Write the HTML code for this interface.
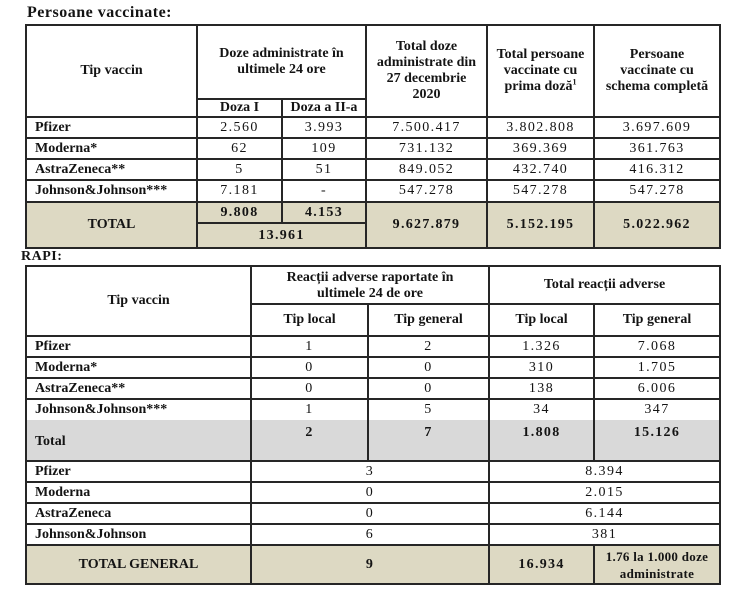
<!DOCTYPE html>
<html>
<head>
<meta charset="utf-8">
<style>
html,body{margin:0;padding:0;background:#fff;}
body{width:732px;height:600px;position:relative;overflow:hidden;font-family:"Liberation Serif","DejaVu Serif",serif;color:#141414;}
.c{position:absolute;display:flex;align-items:center;justify-content:center;text-align:center;box-sizing:border-box;white-space:nowrap;}
.b{font-weight:bold;font-size:14px;letter-spacing:0px;line-height:16px;}
.n{font-size:14px;letter-spacing:1.4px;}
.nb{font-size:14px;letter-spacing:1.3px;font-weight:bold;}
.l{justify-content:flex-start;padding-left:9px;}
.h{position:absolute;height:2px;background:#262626;}
.v{position:absolute;width:2px;background:#262626;}
.bg{position:absolute;}
.t{position:absolute;font-weight:bold;white-space:nowrap;}
</style>
</head>
<body>

<div class="t" style="left:27px;top:5px;font-size:16px;line-height:16px;letter-spacing:0.5px;">Persoane vaccinate:</div>

<!-- TABLE 1 backgrounds -->
<div class="bg" style="left:26px;top:202px;width:694px;height:46px;background:#ddd9c3;"></div>

<!-- TABLE 1 cells -->
<div class="c b" style="left:26px;top:25px;width:171px;height:92px;">Tip vaccin</div>
<div class="c b" style="left:197px;top:25px;width:169px;height:74px;">Doze administrate în<br>ultimele 24 ore</div>
<div class="c b" style="left:366px;top:25px;width:121px;height:92px;">Total doze<br>administrate din<br>27 decembrie<br>2020</div>
<div class="c b" style="left:487px;top:25px;width:107px;height:92px;"><span>Total persoane<br>vaccinate cu<br>prima doză<sup style="font-size:8px;line-height:0;">1</sup></span></div>
<div class="c b" style="left:594px;top:25px;width:126px;height:92px;">Persoane<br>vaccinate cu<br>schema completă</div>
<div class="c b" style="left:197px;top:99px;width:85px;height:18px;">Doza I</div>
<div class="c b" style="left:282px;top:99px;width:84px;height:18px;">Doza a II-a</div>

<!-- row Pfizer -->
<div class="c b l" style="left:26px;top:117px;width:171px;height:21px;">Pfizer</div>
<div class="c n" style="left:197px;top:117px;width:85px;height:21px;">2.560</div>
<div class="c n" style="left:282px;top:117px;width:84px;height:21px;">3.993</div>
<div class="c n" style="left:366px;top:117px;width:121px;height:21px;">7.500.417</div>
<div class="c n" style="left:487px;top:117px;width:107px;height:21px;">3.802.808</div>
<div class="c n" style="left:594px;top:117px;width:126px;height:21px;">3.697.609</div>
<!-- row Moderna -->
<div class="c b l" style="left:26px;top:138px;width:171px;height:21px;">Moderna*</div>
<div class="c n" style="left:197px;top:138px;width:85px;height:21px;">62</div>
<div class="c n" style="left:282px;top:138px;width:84px;height:21px;">109</div>
<div class="c n" style="left:366px;top:138px;width:121px;height:21px;">731.132</div>
<div class="c n" style="left:487px;top:138px;width:107px;height:21px;">369.369</div>
<div class="c n" style="left:594px;top:138px;width:126px;height:21px;">361.763</div>
<!-- row AstraZeneca -->
<div class="c b l" style="left:26px;top:159px;width:171px;height:21px;">AstraZeneca**</div>
<div class="c n" style="left:197px;top:159px;width:85px;height:21px;">5</div>
<div class="c n" style="left:282px;top:159px;width:84px;height:21px;">51</div>
<div class="c n" style="left:366px;top:159px;width:121px;height:21px;">849.052</div>
<div class="c n" style="left:487px;top:159px;width:107px;height:21px;">432.740</div>
<div class="c n" style="left:594px;top:159px;width:126px;height:21px;">416.312</div>
<!-- row J&J -->
<div class="c b l" style="left:26px;top:180px;width:171px;height:22px;">Johnson&amp;Johnson***</div>
<div class="c n" style="left:197px;top:180px;width:85px;height:22px;">7.181</div>
<div class="c n" style="left:282px;top:180px;width:84px;height:22px;">-</div>
<div class="c n" style="left:366px;top:180px;width:121px;height:22px;">547.278</div>
<div class="c n" style="left:487px;top:180px;width:107px;height:22px;">547.278</div>
<div class="c n" style="left:594px;top:180px;width:126px;height:22px;">547.278</div>
<!-- TOTAL -->
<div class="c b" style="left:26px;top:202px;width:171px;height:46px;">TOTAL</div>
<div class="c nb" style="left:197px;top:202px;width:85px;height:21px;">9.808</div>
<div class="c nb" style="left:282px;top:202px;width:84px;height:21px;">4.153</div>
<div class="c nb" style="left:197px;top:223px;width:169px;height:25px;">13.961</div>
<div class="c nb" style="left:366px;top:202px;width:121px;height:46px;">9.627.879</div>
<div class="c nb" style="left:487px;top:202px;width:107px;height:46px;">5.152.195</div>
<div class="c nb" style="left:594px;top:202px;width:126px;height:46px;">5.022.962</div>

<!-- TABLE 1 lines -->
<div class="h" style="left:25px;top:24px;width:696px;"></div>
<div class="h" style="left:197px;top:98px;width:169px;"></div>
<div class="h" style="left:25px;top:116px;width:696px;"></div>
<div class="h" style="left:25px;top:137px;width:696px;"></div>
<div class="h" style="left:25px;top:158px;width:696px;"></div>
<div class="h" style="left:25px;top:179px;width:696px;"></div>
<div class="h" style="left:25px;top:201px;width:696px;"></div>
<div class="h" style="left:197px;top:222px;width:169px;"></div>
<div class="h" style="left:25px;top:247px;width:696px;"></div>
<div class="v" style="left:25px;top:24px;height:225px;"></div>
<div class="v" style="left:196px;top:24px;height:225px;"></div>
<div class="v" style="left:365px;top:24px;height:225px;"></div>
<div class="v" style="left:486px;top:24px;height:225px;"></div>
<div class="v" style="left:593px;top:24px;height:225px;"></div>
<div class="v" style="left:719px;top:24px;height:225px;"></div>
<div class="v" style="left:281px;top:98px;height:125px;"></div>

<div class="t" style="left:21px;top:250px;font-size:14px;line-height:14px;letter-spacing:0.5px;">RAPI:</div>

<!-- TABLE 2 backgrounds -->
<div class="bg" style="left:26px;top:420px;width:694px;height:41px;background:#d9d9d9;"></div>
<div class="bg" style="left:26px;top:545px;width:694px;height:39px;background:#ddd9c3;"></div>

<!-- TABLE 2 header -->
<div class="c b" style="left:26px;top:266px;width:225px;height:70px;">Tip vaccin</div>
<div class="c b" style="left:251px;top:268px;width:238px;height:36px;">Reacții adverse raportate în<br>ultimele 24 de ore</div>
<div class="c b" style="left:489px;top:266px;width:231px;height:38px;">Total reacții adverse</div>
<div class="c b" style="left:251px;top:304px;width:117px;height:32px;">Tip local</div>
<div class="c b" style="left:368px;top:304px;width:121px;height:32px;">Tip general</div>
<div class="c b" style="left:489px;top:304px;width:105px;height:32px;">Tip local</div>
<div class="c b" style="left:594px;top:304px;width:126px;height:32px;">Tip general</div>

<!-- rows -->
<div class="c b l" style="left:26px;top:336px;width:225px;height:21px;">Pfizer</div>
<div class="c n" style="left:251px;top:336px;width:117px;height:21px;">1</div>
<div class="c n" style="left:368px;top:336px;width:121px;height:21px;">2</div>
<div class="c n" style="left:489px;top:336px;width:105px;height:21px;">1.326</div>
<div class="c n" style="left:594px;top:336px;width:126px;height:21px;">7.068</div>

<div class="c b l" style="left:26px;top:357px;width:225px;height:21px;">Moderna*</div>
<div class="c n" style="left:251px;top:357px;width:117px;height:21px;">0</div>
<div class="c n" style="left:368px;top:357px;width:121px;height:21px;">0</div>
<div class="c n" style="left:489px;top:357px;width:105px;height:21px;">310</div>
<div class="c n" style="left:594px;top:357px;width:126px;height:21px;">1.705</div>

<div class="c b l" style="left:26px;top:378px;width:225px;height:21px;">AstraZeneca**</div>
<div class="c n" style="left:251px;top:378px;width:117px;height:21px;">0</div>
<div class="c n" style="left:368px;top:378px;width:121px;height:21px;">0</div>
<div class="c n" style="left:489px;top:378px;width:105px;height:21px;">138</div>
<div class="c n" style="left:594px;top:378px;width:126px;height:21px;">6.006</div>

<div class="c b l" style="left:26px;top:399px;width:225px;height:21px;">Johnson&amp;Johnson***</div>
<div class="c n" style="left:251px;top:399px;width:117px;height:21px;">1</div>
<div class="c n" style="left:368px;top:399px;width:121px;height:21px;">5</div>
<div class="c n" style="left:489px;top:399px;width:105px;height:21px;">34</div>
<div class="c n" style="left:594px;top:399px;width:126px;height:21px;">347</div>

<!-- Total -->
<div class="c b l" style="left:26px;top:423px;width:225px;height:38px;font-size:14px;">Total</div>
<div class="c nb" style="left:251px;top:422px;width:117px;height:22px;">2</div>
<div class="c nb" style="left:368px;top:422px;width:121px;height:22px;">7</div>
<div class="c nb" style="left:489px;top:422px;width:105px;height:22px;">1.808</div>
<div class="c nb" style="left:594px;top:422px;width:126px;height:22px;">15.126</div>

<!-- lower rows -->
<div class="c b l" style="left:26px;top:461px;width:225px;height:21px;">Pfizer</div>
<div class="c n" style="left:251px;top:461px;width:238px;height:21px;">3</div>
<div class="c n" style="left:489px;top:461px;width:231px;height:21px;">8.394</div>

<div class="c b l" style="left:26px;top:482px;width:225px;height:21px;">Moderna</div>
<div class="c n" style="left:251px;top:482px;width:238px;height:21px;">0</div>
<div class="c n" style="left:489px;top:482px;width:231px;height:21px;">2.015</div>

<div class="c b l" style="left:26px;top:503px;width:225px;height:21px;">AstraZeneca</div>
<div class="c n" style="left:251px;top:503px;width:238px;height:21px;">0</div>
<div class="c n" style="left:489px;top:503px;width:231px;height:21px;">6.144</div>

<div class="c b l" style="left:26px;top:524px;width:225px;height:21px;">Johnson&amp;Johnson</div>
<div class="c n" style="left:251px;top:524px;width:238px;height:21px;">6</div>
<div class="c n" style="left:489px;top:524px;width:231px;height:21px;">381</div>

<div class="c b" style="left:26px;top:545px;width:225px;height:39px;">TOTAL GENERAL</div>
<div class="c nb" style="left:251px;top:545px;width:238px;height:39px;">9</div>
<div class="c nb" style="left:489px;top:545px;width:105px;height:39px;">16.934</div>
<div class="c b" style="left:594px;top:545px;width:126px;height:39px;font-size:13px;letter-spacing:0.3px;line-height:17px;">1.76 la 1.000 doze<br>administrate</div>

<!-- TABLE 2 lines -->
<div class="h" style="left:25px;top:265px;width:696px;"></div>
<div class="h" style="left:251px;top:303px;width:470px;"></div>
<div class="h" style="left:25px;top:335px;width:696px;"></div>
<div class="h" style="left:25px;top:356px;width:696px;"></div>
<div class="h" style="left:25px;top:377px;width:696px;"></div>
<div class="h" style="left:25px;top:398px;width:696px;"></div>
<div class="h" style="left:25px;top:460px;width:696px;"></div>
<div class="h" style="left:25px;top:481px;width:696px;"></div>
<div class="h" style="left:25px;top:502px;width:696px;"></div>
<div class="h" style="left:25px;top:523px;width:696px;"></div>
<div class="h" style="left:25px;top:544px;width:696px;"></div>
<div class="h" style="left:25px;top:583px;width:696px;"></div>
<div class="v" style="left:25px;top:265px;height:320px;"></div>
<div class="v" style="left:250px;top:265px;height:320px;"></div>
<div class="v" style="left:488px;top:265px;height:320px;"></div>
<div class="v" style="left:719px;top:265px;height:320px;"></div>
<div class="v" style="left:367px;top:303px;height:158px;"></div>
<div class="v" style="left:593px;top:303px;height:158px;"></div>
<div class="v" style="left:593px;top:544px;height:40px;"></div>

</body>
</html>
